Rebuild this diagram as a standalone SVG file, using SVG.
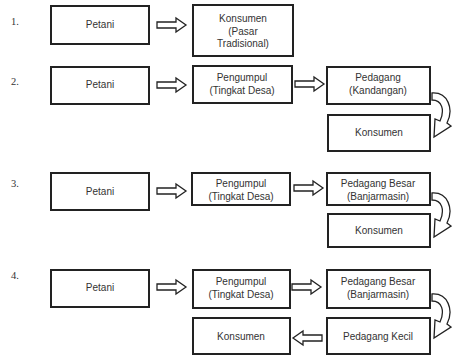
<svg xmlns="http://www.w3.org/2000/svg" xmlns:xlink="http://www.w3.org/1999/xlink" width="452" height="358" viewBox="0 0 452 358">
<style>
.box{fill:#fff;stroke:#222;stroke-width:2}
.t{font-family:"Liberation Sans",Arial,sans-serif;font-size:10px;fill:#333;text-anchor:middle}
.num{font-family:"Liberation Serif","Times New Roman",serif;font-size:10.5px;fill:#333}
.arr{fill:#fff;stroke:#222;stroke-width:1.3;stroke-linejoin:miter}
</style>
<defs>
<path id="ra" d="M0,-3 H19 V-7 L29,0 L19,7 V3 H0 Z"/>
<path id="ca" d="M0,0 C16,-1 22,16 15,30 L19,33 L2,44 L3,26 L8,28 C13,17 10,7 0,7 Z"/>
</defs>
<rect width="452" height="358" fill="#fff"/>
<g id="numbers">
<text class="num" x="11" y="25">1.</text>
<text class="num" x="11" y="85">2.</text>
<text class="num" x="11" y="187">3.</text>
<text class="num" x="11" y="279">4.</text>
</g>
<g id="r1-petani"><rect class="box" x="51" y="6" width="98" height="38"/><text class="t" x="100" y="28">Petani</text></g>
<g id="r1-konsumen"><rect class="box" x="193" y="5" width="100" height="51"/><text class="t" x="243" y="22">Konsumen</text><text class="t" x="243" y="35">(Pasar</text><text class="t" x="243" y="47">Tradisional)</text></g>
<g id="r2-petani"><rect class="box" x="51" y="67" width="98" height="37"/><text class="t" x="100" y="88">Petani</text></g>
<g id="r2-pengumpul"><rect class="box" x="193" y="66" width="99" height="37"/><text class="t" x="242" y="81">Pengumpul</text><text class="t" x="242" y="94">(Tingkat Desa)</text></g>
<g id="r2-pedagang"><rect class="box" x="327" y="67" width="103" height="37"/><text class="t" x="378" y="81">Pedagang</text><text class="t" x="378" y="94">(Kandangan)</text></g>
<g id="r2-konsumen"><rect class="box" x="328" y="115" width="102" height="36"/><text class="t" x="379" y="136">Konsumen</text></g>
<g id="r3-petani"><rect class="box" x="51" y="173" width="98" height="37"/><text class="t" x="100" y="195">Petani</text></g>
<g id="r3-pengumpul"><rect class="box" x="192" y="173" width="98" height="32"/><text class="t" x="241" y="187">Pengumpul</text><text class="t" x="241" y="200">(Tingkat Desa)</text></g>
<g id="r3-pedagang"><rect class="box" x="327" y="173" width="103" height="32"/><text class="t" x="378" y="187">Pedagang Besar</text><text class="t" x="378" y="200">(Banjarmasin)</text></g>
<g id="r3-konsumen"><rect class="box" x="328" y="214" width="102" height="33"/><text class="t" x="379" y="234">Konsumen</text></g>
<g id="r4-petani"><rect class="box" x="51" y="270" width="98" height="37"/><text class="t" x="100" y="291">Petani</text></g>
<g id="r4-pengumpul"><rect class="box" x="193" y="270" width="97" height="38"/><text class="t" x="241" y="285">Pengumpul</text><text class="t" x="241" y="298">(Tingkat Desa)</text></g>
<g id="r4-pedagang"><rect class="box" x="327" y="270" width="103" height="38"/><text class="t" x="378" y="285">Pedagang Besar</text><text class="t" x="378" y="298">(Banjarmasin)</text></g>
<g id="r4-konsumen"><rect class="box" x="193" y="318" width="97" height="36"/><text class="t" x="241" y="340">Konsumen</text></g>
<g id="r4-kecil"><rect class="box" x="327" y="318" width="103" height="36"/><text class="t" x="378" y="340">Pedagang Kecil</text></g>
<g id="connectors">
<use xlink:href="#ra" class="arr" transform="translate(157,25)"/>
<use xlink:href="#ra" class="arr" transform="translate(157,85)"/>
<use xlink:href="#ra" class="arr" transform="translate(295,84)"/>
<use xlink:href="#ca" class="arr" transform="translate(432,93)"/>
<use xlink:href="#ra" class="arr" transform="translate(157,191)"/>
<use xlink:href="#ra" class="arr" transform="translate(294,188)"/>
<use xlink:href="#ca" class="arr" transform="translate(432,193)"/>
<use xlink:href="#ra" class="arr" transform="translate(157,287)"/>
<use xlink:href="#ra" class="arr" transform="translate(292,287)"/>
<use xlink:href="#ca" class="arr" transform="translate(432,294)"/>
<use xlink:href="#ra" class="arr" transform="translate(322,338) scale(-1,1)"/>
</g>
</svg>
